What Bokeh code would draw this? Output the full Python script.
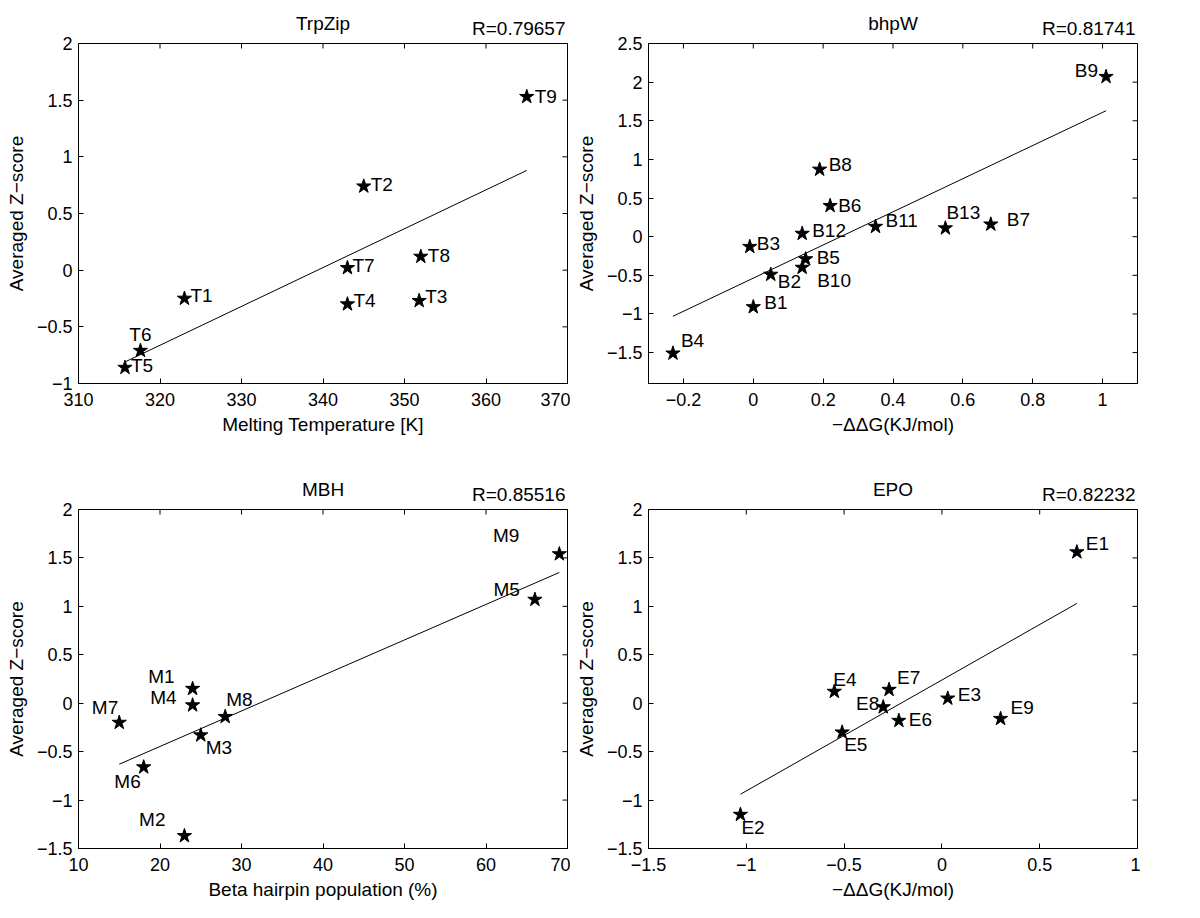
import math
from bokeh.plotting import figure
from bokeh.layouts import gridplot
from bokeh.models import Range1d, FixedTicker, ColumnDataSource, Title
from bokeh.core.properties import value
from bokeh.embed import file_html
from bokeh.resources import INLINE

# ---------------- data ----------------
trp_names = ["T1", "T2", "T3", "T4", "T5", "T6", "T7", "T8", "T9"]
trp_x = [323, 345, 351.8, 343, 315.7, 317.6, 343, 352, 365]
trp_y = [-0.25, 0.74, -0.27, -0.30, -0.86, -0.71, 0.02, 0.12, 1.53]
trp_fit_y = [-0.81, 0.88]
trp_r = "R=0.79657"

bhp_names = ["B1", "B2", "B3", "B4", "B5", "B6", "B7", "B8", "B9", "B10", "B11", "B12", "B13"]
bhp_x = [0.0, 0.05, -0.01, -0.23, 0.15, 0.22, 0.68, 0.19, 1.01, 0.14, 0.35, 0.14, 0.55]
bhp_y = [-0.91, -0.49, -0.13, -1.51, -0.29, 0.40, 0.16, 0.87, 2.07, -0.40, 0.13, 0.04, 0.11]
bhp_fit_y = [-1.03, 1.63]
bhp_r = "R=0.81741"

mbh_names = ["M1", "M2", "M3", "M4", "M5", "M6", "M7", "M8", "M9"]
mbh_x = [24, 23, 25, 24, 66, 18, 15, 28, 69]
mbh_y = [0.15, -1.37, -0.33, -0.02, 1.07, -0.66, -0.20, -0.14, 1.54]
mbh_fit_y = [-0.63, 1.35]
mbh_r = "R=0.85516"

epo_names = ["E1", "E2", "E3", "E4", "E5", "E6", "E7", "E8", "E9"]
epo_x = [0.69, -1.03, 0.03, -0.55, -0.51, -0.22, -0.27, -0.30, 0.30]
epo_y = [1.56, -1.15, 0.05, 0.12, -0.30, -0.18, 0.14, -0.04, -0.16]
epo_fit_y = [-0.94, 1.03]
epo_r = "R=0.82232"

# tick values
trp_xticks = [310, 320, 330, 340, 350, 360, 370]
trp_yticks = [-1, -0.5, 0, 0.5, 1, 1.5, 2]
bhp_xticks = [-0.2, 0, 0.2, 0.4, 0.6, 0.8, 1]
bhp_yticks = [-1.5, -1, -0.5, 0, 0.5, 1, 1.5, 2, 2.5]
mbh_xticks = [10, 20, 30, 40, 50, 60, 70]
mbh_yticks = [-1.5, -1, -0.5, 0, 0.5, 1, 1.5, 2]
epo_xticks = [-1.5, -1, -0.5, 0, 0.5, 1]
epo_yticks = [-1.5, -1, -0.5, 0, 0.5, 1, 1.5, 2]

# ---------------- layout / styling ----------------
FONT = "Liberation Sans"

# label placement: (align, dx px, dy px downward)
trp_place = [("left", 6, -3), ("left", 7, -2), ("left", 6, -4), ("left", 6, -4), ("left", 6, -2),
             ("center", 0, -16), ("left", 5, -2), ("left", 7, -1), ("left", 8, 0)]
bhp_place = [("left", 11, -5), ("left", 7, 7), ("left", 7, -3), ("left", 8, -13), ("left", 11, -2),
             ("left", 8, 0), ("left", 16, -5), ("left", 9, -5), ("right", -8, -6), ("left", 15, 13),
             ("left", 10, -6), ("left", 10, -3), ("left", 1, -16)]
mbh_place = [("right", -18, -12), ("right", -19, -16), ("left", 5, 12), ("right", -16, -8),
             ("right", -15, -10), ("right", -3, 14), ("right", -1, -15), ("left", 1, -17),
             ("right", -40, -19)]
epo_place = [("left", 9, -9), ("left", 1, 13), ("left", 10, -4), ("left", -1, -12), ("left", 2, 12),
             ("left", 10, -1), ("left", 8, -12), ("right", -4, -4), ("left", 10, -11)]


def fmt(v):
    s = ("%g" % v)
    return s.replace("-", "\u2212")


def style_axis(ax, ticks, label_standoff, axis_label_standoff):
    ax.ticker = FixedTicker(ticks=ticks)
    ax.major_tick_in = 5
    ax.major_tick_out = 0
    ax.minor_tick_in = 0
    ax.minor_tick_out = 0
    ax.axis_line_color = "black"
    ax.major_tick_line_color = "black"
    ax.major_label_text_font = FONT
    ax.major_label_text_color = "black"
    ax.major_label_text_font_size = "18px"
    ax.major_label_overrides = {t: fmt(t) for t in ticks}
    ax.major_label_standoff = label_standoff
    ax.axis_label_text_font = FONT
    ax.axis_label_text_font_size = "19px"
    ax.axis_label_text_font_style = "normal"
    ax.axis_label_text_color = "black"
    ax.axis_label_standoff = axis_label_standoff


def make_panel(title, rtext, xs, ys, names, fit_y, place, xr, yr, xticks, yticks,
               xlabel, width, height, borders, r_standoff, t_standoff):
    bl, br, bt, bb = borders
    p = figure(width=width, height=height, x_range=Range1d(*xr), y_range=Range1d(*yr),
               output_backend="svg", toolbar_location=None,
               min_border_left=bl, min_border_right=br, min_border_top=bt, min_border_bottom=bb)
    p.xgrid.visible = False
    p.ygrid.visible = False
    p.outline_line_color = "black"
    p.outline_line_alpha = 1.0
    p.background_fill_color = "white"
    p.border_fill_color = "white"

    style_axis(p.xaxis[0], xticks, 9, 5)
    style_axis(p.yaxis[0], yticks, 6, 7)
    p.xaxis[0].axis_label = xlabel
    p.yaxis[0].axis_label = "Averaged Z\u2212score"

    # inward ticks on the top and right edges (half of each dash is clipped by the frame)
    p.scatter(xticks, [yr[1]] * len(xticks), marker="dash", size=10, angle=math.pi / 2,
              line_color="black", line_width=1)
    p.scatter([xr[1]] * len(yticks), yticks, marker="dash", size=10,
              line_color="black", line_width=1)

    # fit line from min to max of data
    fx = [min(xs), max(xs)]
    p.line(fx, fit_y, line_color="black", line_width=1)

    p.scatter(xs, ys, marker="star", size=15, fill_color="black", line_color="black")

    for align in ("left", "right", "center"):
        idx = [i for i, pl in enumerate(place) if pl[0] == align]
        if not idx:
            continue
        src = ColumnDataSource(dict(
            x=[xs[i] for i in idx], y=[ys[i] for i in idx], t=[names[i] for i in idx],
            dx=[place[i][1] for i in idx], dy=[place[i][2] for i in idx]))
        p.text(x="x", y="y", text="t", x_offset="dx", y_offset="dy", source=src,
               text_align=align, text_baseline="middle",
               text_font=value(FONT), text_font_size="19px", text_color="black")

    # panel title (outer) and correlation text (inner, right aligned)
    p.title.text = title
    p.title.align = "center"
    p.title.text_font = FONT
    p.title.text_font_size = "19px"
    p.title.text_font_style = "normal"
    p.title.text_color = "black"
    p.title.standoff = t_standoff
    p.add_layout(Title(text=rtext, align="right", offset=2, standoff=r_standoff, text_font=FONT,
                       text_font_size="19px", text_font_style="normal", text_color="black"),
                 "above")
    return p


top_b = (78, 3, 43, 75)
bot_b = (78, 3, 51, 62)

p1 = make_panel("TrpZip", trp_r, trp_x, trp_y, trp_names, trp_fit_y, trp_place,
                (310, 370), (-1, 2), trp_xticks, trp_yticks, "Melting Temperature [K]",
                570, 458, top_b, 9, -45)
p2 = make_panel("bhpW", bhp_r, bhp_x, bhp_y, bhp_names, bhp_fit_y, bhp_place,
                (-0.3, 1.1), (-1.9, 2.5), bhp_xticks, bhp_yticks, "\u2212\u0394\u0394G(KJ/mol)",
                570, 458, top_b, 9, -45)
p3 = make_panel("MBH", mbh_r, mbh_x, mbh_y, mbh_names, mbh_fit_y, mbh_place,
                (10, 70), (-1.5, 2), mbh_xticks, mbh_yticks, "Beta hairpin population (%)",
                570, 452, bot_b, 9, -45)
p4 = make_panel("EPO", epo_r, epo_x, epo_y, epo_names, epo_fit_y, epo_place,
                (-1.5, 1), (-1.5, 2), epo_xticks, epo_yticks, "\u2212\u0394\u0394G(KJ/mol)",
                570, 452, bot_b, 9, -45)

grid = gridplot([[p1, p2], [p3, p4]], toolbar_location=None)

open("out.html", "w").write(file_html(grid, INLINE))
